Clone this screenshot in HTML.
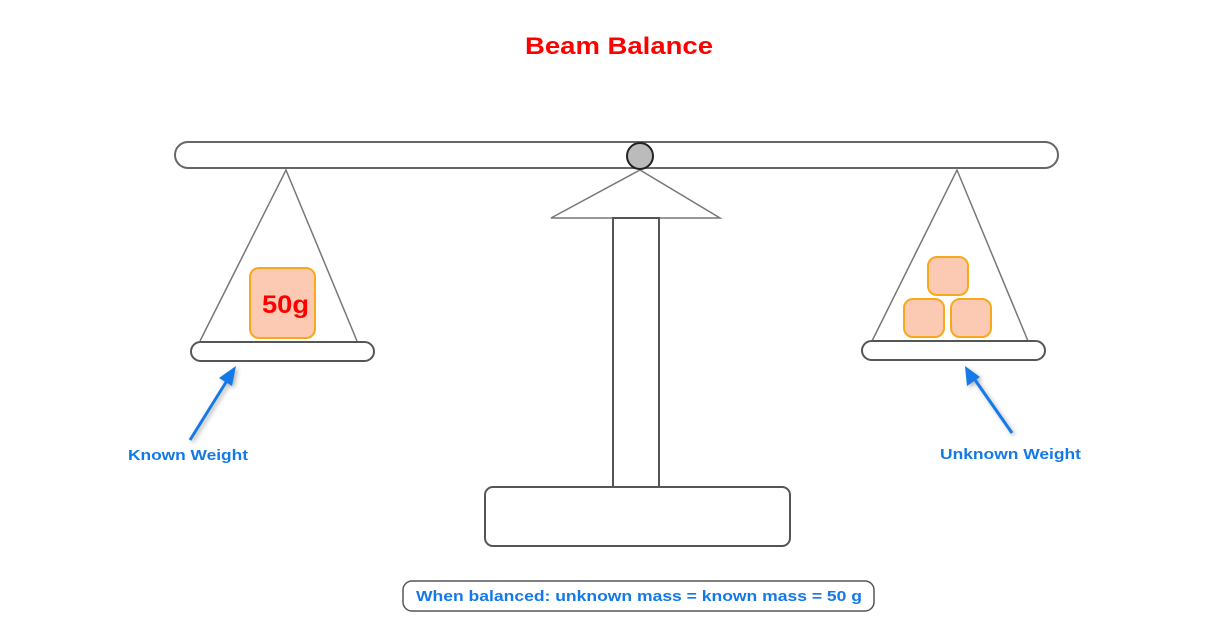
<!DOCTYPE html>
<html><head><style>body{margin:0;background:#fff}svg{display:block}</style></head>
<body>
<svg width="1232" height="640" viewBox="0 0 1232 640" font-family="Liberation Sans, sans-serif">
<defs>
<filter id="sh" x="-50%" y="-50%" width="200%" height="200%"><feDropShadow dx="2" dy="2" stdDeviation="2" flood-color="#000" flood-opacity="0.3"/></filter>
</defs>
<text x="525" y="54" textLength="188" lengthAdjust="spacingAndGlyphs" font-size="24" font-weight="bold" fill="#f00">Beam Balance</text>
<rect x="175" y="142" width="883" height="26" rx="13" fill="#fff" stroke="#666" stroke-width="2"/>
<polygon points="640,170 551,218 720,218" fill="#fff" stroke="#777" stroke-width="1.5"/>
<circle cx="640" cy="156" r="13" fill="#bbb" stroke="#222" stroke-width="2"/>
<rect x="613" y="218" width="46" height="269" fill="#fff" stroke="#555" stroke-width="2"/>
<rect x="485" y="487" width="305" height="59" rx="8" fill="#fff" stroke="#555" stroke-width="2"/>
<polyline points="200,341 286,170 357,341" fill="none" stroke="#777" stroke-width="1.5"/>
<rect x="191" y="342" width="183" height="19" rx="9.5" fill="#fff" stroke="#555" stroke-width="2"/>
<rect x="250" y="268" width="65" height="70" rx="9" fill="#fcc9b3" stroke="#f7a81b" stroke-width="2"/>
<text x="262" y="313" textLength="47" lengthAdjust="spacingAndGlyphs" font-size="25" font-weight="bold" fill="#f00">50g</text>
<polyline points="872,341 957,170 1028,341" fill="none" stroke="#777" stroke-width="1.5"/>
<rect x="862" y="341" width="183" height="19" rx="9.5" fill="#fff" stroke="#555" stroke-width="2"/>
<rect x="928" y="257" width="40" height="38" rx="9" fill="#fcc9b3" stroke="#f7a81b" stroke-width="2"/>
<rect x="904" y="299" width="40" height="38" rx="9" fill="#fcc9b3" stroke="#f7a81b" stroke-width="2"/>
<rect x="951" y="299" width="40" height="38" rx="9" fill="#fcc9b3" stroke="#f7a81b" stroke-width="2"/>
<g filter="url(#sh)" stroke="#1479e8" fill="#1479e8">
<line x1="190" y1="440" x2="228" y2="379" stroke-width="3"/>
<polygon points="236,366 219,378 232,386" stroke="none"/>
<line x1="1012" y1="433" x2="973" y2="377" stroke-width="3"/>
<polygon points="965,366 967,386 980,377" stroke="none"/>
</g>
<text x="128" y="460" textLength="120" lengthAdjust="spacingAndGlyphs" font-size="15" font-weight="bold" fill="#1479e8">Known Weight</text>
<text x="940" y="459" textLength="141" lengthAdjust="spacingAndGlyphs" font-size="15" font-weight="bold" fill="#1479e8">Unknown Weight</text>
<rect x="403" y="581" width="471" height="30" rx="9" fill="#fff" stroke="#555" stroke-width="1.5"/>
<text x="416" y="601" textLength="446" lengthAdjust="spacingAndGlyphs" font-size="15" font-weight="bold" fill="#1479e8">When balanced: unknown mass = known mass = 50 g</text>
</svg>
</body></html>
